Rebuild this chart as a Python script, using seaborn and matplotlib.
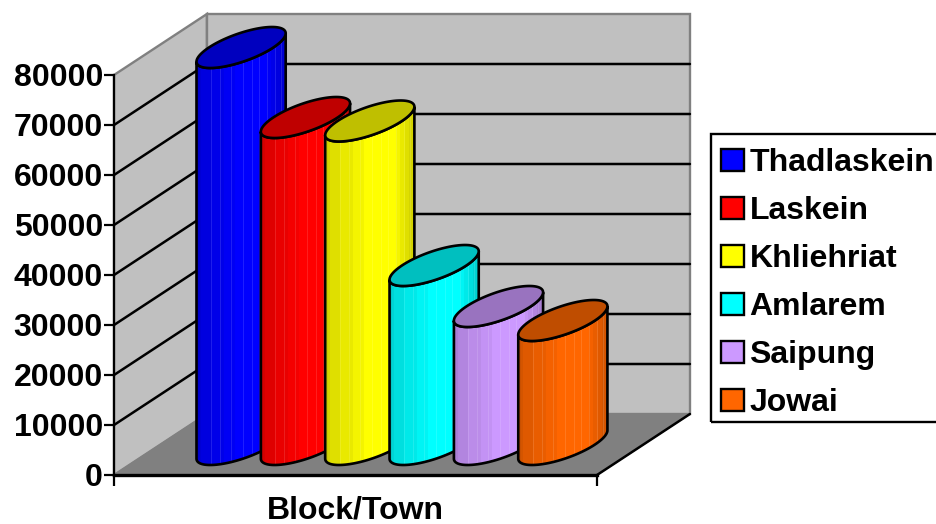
import matplotlib
matplotlib.use("Agg")
import matplotlib.pyplot as plt
import numpy as np
import pandas as pd
import seaborn as sns
from matplotlib.colors import to_rgb
from matplotlib.patches import Patch, Polygon, Rectangle

towns = ["Thadlaskein", "Laskein", "Khliehriat", "Amlarem", "Saipung", "Jowai"]
population = [79400, 65400, 64700, 35800, 27600, 24800]
colors = ["#0000FF", "#FF0000", "#FFFF00", "#00FFFF", "#CC99FF", "#FF6600"]
y_ticks = [0, 10000, 20000, 30000, 40000, 50000, 60000, 70000, 80000]
x_label = "Block/Town"

sns.set_style("white")
plt.rcParams["font.family"] = ["Liberation Sans", "DejaVu Sans"]
plt.rcParams["font.weight"] = "bold"
plt.rcParams["text.color"] = "black"
plt.rcParams["axes.labelcolor"] = "black"
plt.rcParams["xtick.color"] = "black"
plt.rcParams["ytick.color"] = "black"
FONT = 23

# fake 3D box: how far the back wall sits behind the front plane, in data units
DEPTH_X = 93 / 64.4
DEPTH_Y = 61 / 0.005
# cylinder footprint
CYL_W = 1.0
CYL_DX = 0.96
CYL_DY = 8200
X0, X1 = -1.253, 6.253
Y_TOP = 80000

df = pd.DataFrame({"town": towns, "population": population})

fig = plt.figure(figsize=(9.37, 5.24), dpi=100)
ax = fig.add_axes([114 / 937, 49 / 524, 483 / 937, 400 / 524])
ax.patch.set_visible(False)

sns.barplot(data=df, x="town", y="population", hue="town", order=towns, hue_order=towns,
            palette=colors, dodge=False, width=1.4, saturation=1, legend=False, ax=ax, zorder=3)

# walls and floor
wall = "#C0C0C0"
edge = "#808080"
ax.add_patch(Polygon([(X0, 0), (X0 + DEPTH_X, DEPTH_Y), (X0 + DEPTH_X, Y_TOP + DEPTH_Y), (X0, Y_TOP)],
                     fc=wall, ec=edge, lw=1.7, clip_on=False, zorder=0))
ax.add_patch(Polygon([(X0 + DEPTH_X, DEPTH_Y), (X1 + DEPTH_X, DEPTH_Y), (X1 + DEPTH_X, Y_TOP + DEPTH_Y),
                      (X0 + DEPTH_X, Y_TOP + DEPTH_Y)],
                     fc=wall, ec=edge, lw=1.7, clip_on=False, zorder=0))
ax.add_patch(Polygon([(X0, 0), (X1, 0), (X1 + DEPTH_X, DEPTH_Y), (X0 + DEPTH_X, DEPTH_Y)],
                     fc=edge, ec=edge, lw=1, clip_on=False, zorder=0.5))
ax.plot([X1, X1 + DEPTH_X], [0, DEPTH_Y], color="black", lw=1.8, clip_on=False, zorder=1)

# gridlines run along the side wall then across the back; the top one is the wall edge
for t in y_ticks[1:-1]:
    ax.plot([X0, X0 + DEPTH_X, X1 + DEPTH_X], [t, t + DEPTH_Y, t + DEPTH_Y],
            color="black", lw=1.8, clip_on=False, zorder=1)

theta = np.linspace(0, 2 * np.pi, 200)
t_left = np.arctan2(CYL_DX, CYL_W) + np.pi
arc = np.linspace(t_left, t_left + np.pi, 80)
shade = np.interp(np.linspace(0, 1, 90), [0, 0.06, 0.25, 0.5, 0.75, 1], [0.76, 0.87, 0.92, 1, 1, 0.8])
shade = np.round(shade * 24) / 24
# the thin pale facet lines on the cylinders
streaks = [15, 24, 35, 46, 55, 62, 70, 78, 84]


def ellipse(cx, cy, angles):
    return np.column_stack([cx + np.cos(angles) * CYL_W / 2 + np.sin(angles) * CYL_DX / 2,
                            cy + np.sin(angles) * CYL_DY / 2])


for i, container in enumerate(ax.containers):
    bar = container[0]
    bar.set_linewidth(0)
    bar.set_x(bar.get_x() + DEPTH_X / 2)
    bar.set_y(DEPTH_Y / 2)
    z = 3 + i
    bar.set_zorder(z)
    cx = bar.get_x() + bar.get_width() / 2
    base = bar.get_y()
    top = base + bar.get_height()
    rgb = np.array(to_rgb(bar.get_facecolor()))

    # lower arcs of both ends joined up give the body outline
    low = ellipse(cx, base, arc)
    up = ellipse(cx, top, arc)[::-1]
    body = Polygon(np.vstack([low, up]), closed=True, fc="none", ec="black", lw=1.9,
                   clip_on=False, zorder=z + 0.2)
    ax.add_patch(body)
    bar.set_clip_path(body)
    bar.set_clip_box(fig.bbox)
    strip = shade[None, :, None] * rgb[None, None, :]
    strip[0, streaks, :] = strip[0, streaks, :] * 0.88 + 0.12
    im = ax.imshow(strip, aspect="auto", interpolation="nearest", zorder=z + 0.1,
                   extent=[cx - bar.get_width() / 2, cx + bar.get_width() / 2, base - CYL_DY, top + CYL_DY])
    im.set_clip_path(body)
    # images get cut to the axes box otherwise, and the cylinders stick out of it
    im.set_clip_box(fig.bbox)
    ax.add_patch(Polygon(ellipse(cx, top, theta), closed=True, fc=rgb * 0.75, ec="black", lw=1.9,
                         clip_on=False, zorder=z + 0.3))

ax.set_xlim(X0, X1)
ax.set_ylim(0, Y_TOP)
ax.set_xticks([X0, X1], ["", ""])
ax.set_yticks(y_ticks)
ax.tick_params(axis="y", length=7, width=1.6, pad=1, labelsize=FONT, left=True)
ax.tick_params(axis="x", length=8, width=1.6, bottom=True)
ax.set_ylabel("")
ax.set_xlabel(x_label, fontsize=FONT, fontweight="bold", labelpad=3)
sns.despine(ax=ax)
ax.spines["left"].set_linewidth(1.6)
ax.spines["left"].set_color("black")
ax.spines["bottom"].set_linewidth(2.4)
ax.spines["bottom"].set_color("black")

handles = [Patch(fc=c, ec="black", lw=1.7, label=t) for t, c in zip(towns, colors)]
leg = fig.legend(handles=handles, loc="upper left", bbox_to_anchor=(708 / 937, 1 - 134.5 / 524),
                 fontsize=FONT, frameon=False, borderaxespad=0, borderpad=0.42, labelspacing=0.565,
                 handlelength=0.7, handleheight=0.7, handletextpad=0.18)
# box runs off the right edge of the picture
fig.add_artist(Rectangle((711 / 937, 1 - 422 / 524), 240 / 937, 288 / 524, transform=fig.transFigure,
                         fc="none", ec="black", lw=1.7))

fig.savefig("out.png", dpi=100)
